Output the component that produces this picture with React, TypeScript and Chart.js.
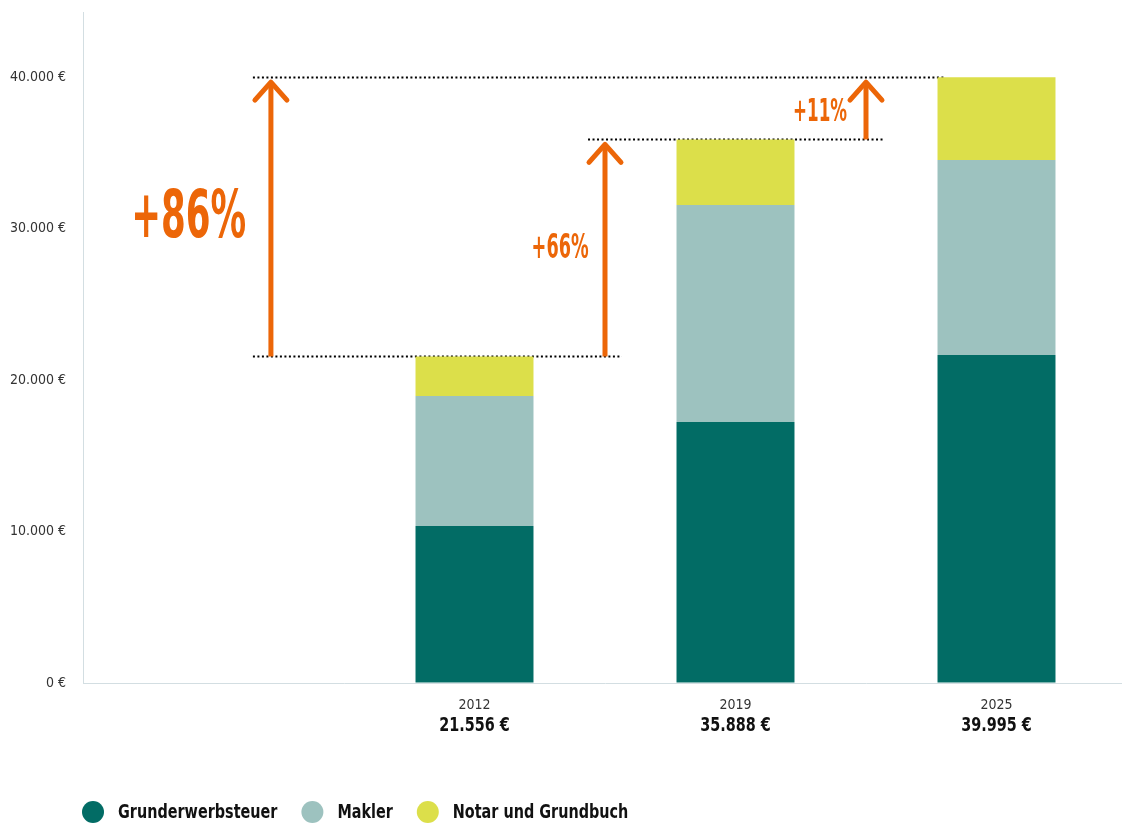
import React, { useEffect, useRef } from "react";
import { Chart, registerables } from "chart.js";

Chart.register(...registerables);

// ---------- data ----------
const categories = ["", "2012", "2019", "2025"];
const totals = [null, 21556, 35888, 39995];
const totalLabels = ["", "21.556 €", "35.888 €", "39.995 €"];
const grunderwerbsteuer = [null, 10363, 17228, 21650];
const makler = [null, 8581, 14323, 12871];
const notarUndGrundbuch = [null, 2612, 4337, 5474];
const yTicks = [0, 10000, 20000, 30000, 40000];
const yMax = 44300;

const seriesNames = ["Grunderwerbsteuer", "Makler", "Notar und Grundbuch"];
const seriesColors = ["#026C65", "#9DC2BF", "#DCDF4A"];

const growthLabels = ["+86%", "+66%", "+11%"];
const growthFrom = [21556, 21556, 35888];
const growthTo = [39995, 35888, 39995];

// ---------- annotation placement (category-index / value units) ----------
const arrowX = [0.22, 1.5, 2.5];
const labelX = [-0.095, 1.328, 2.324];
const labelBaseline = [29450, 28064, 37110];
const labelFontSize = [66, 33, 32];
const labelWidth = [115, 57, 54];
const guideValues = [21556, 35888, 39995];
const guideFrom = [0.151, 1.435, 0.151];
const guideTo = [1.565, 2.565, 2.8];

const ORANGE = "#EC6608";
const FONT = '"Liberation Sans Narrow", "DejaVu Sans Condensed", "Roboto", sans-serif';
const SQUEEZE = 0.8;

const fmt = (v: number) =>
  String(v).replace(/\B(?=(\d{3})+(?!\d))/g, ".") + " €";

const annotationPlugin = {
  id: "annotations",
  beforeDatasetsDraw(chart: any) {
    const { ctx, scales } = chart;
    const x = scales.x;
    const y = scales.y;
    ctx.save();
    ctx.strokeStyle = "#000";
    ctx.lineWidth = 2;
    ctx.setLineDash([2, 2.5]);
    guideValues.forEach((v, i) => {
      const py = Math.round(y.getPixelForValue(v)) + 0.5;
      ctx.beginPath();
      ctx.moveTo(x.getPixelForValue(guideFrom[i]), py);
      ctx.lineTo(x.getPixelForValue(guideTo[i]), py);
      ctx.stroke();
    });
    ctx.restore();
  },
  afterDatasetsDraw(chart: any) {
    const { ctx, scales } = chart;
    const x = scales.x;
    const y = scales.y;
    ctx.save();
    ctx.strokeStyle = ORANGE;
    ctx.fillStyle = ORANGE;
    ctx.lineWidth = 5;
    ctx.lineJoin = "round";
    growthLabels.forEach((label, i) => {
      const px = x.getPixelForValue(arrowX[i]);
      const yFrom = y.getPixelForValue(growthFrom[i]);
      const tip = y.getPixelForValue(growthTo[i]) + 5;
      ctx.lineCap = "butt";
      ctx.beginPath();
      ctx.moveTo(px, yFrom);
      ctx.lineTo(px, tip + 2);
      ctx.stroke();
      ctx.lineCap = "round";
      ctx.beginPath();
      ctx.moveTo(px - 16, tip + 18);
      ctx.lineTo(px, tip);
      ctx.lineTo(px + 16, tip + 18);
      ctx.stroke();

      ctx.save();
      ctx.font = `bold ${labelFontSize[i]}px ${FONT}`;
      const m = ctx.measureText(label).width;
      const sx = labelWidth[i] / m;
      ctx.translate(x.getPixelForValue(labelX[i]), y.getPixelForValue(labelBaseline[i]));
      ctx.scale(sx, 1);
      ctx.textAlign = "center";
      ctx.textBaseline = "alphabetic";
      ctx.fillText(label, 0, 0);
      ctx.restore();
    });
    ctx.restore();
  },
  afterDraw(chart: any) {
    const { ctx, scales, chartArea } = chart;
    const x = scales.x;
    // totals under the year labels
    ctx.save();
    ctx.font = `bold 20px ${FONT}`;
    ctx.fillStyle = "#111";
    ctx.textAlign = "center";
    ctx.textBaseline = "middle";
    totalLabels.forEach((t, i) => {
      if (!t) return;
      ctx.save();
      ctx.translate(x.getPixelForValue(i), x.top + 43);
      ctx.scale(SQUEEZE, 1);
      ctx.fillText(t, 0, 0);
      ctx.restore();
    });
    ctx.restore();

    // legend
    ctx.save();
    ctx.font = `bold 20px ${FONT}`;
    ctx.textBaseline = "middle";
    ctx.textAlign = "left";
    let lx = chartArea.left - 1;
    const ly = chart.height - 12;
    const r = 11;
    seriesNames.forEach((name, i) => {
      ctx.fillStyle = seriesColors[i];
      ctx.beginPath();
      ctx.arc(lx + r, ly, r, 0, Math.PI * 2);
      ctx.fill();
      lx += 2 * r + 14;
      const w = ctx.measureText(name).width * SQUEEZE;
      ctx.save();
      ctx.translate(lx, ly + 1);
      ctx.scale(SQUEEZE, 1);
      ctx.fillStyle = "#111";
      ctx.fillText(name, 0, 0);
      ctx.restore();
      lx += w + 24;
    });
    ctx.restore();
  },
};

export default function App() {
  const ref = useRef<HTMLCanvasElement | null>(null);

  useEffect(() => {
    if (!ref.current) return;
    const seriesData = [grunderwerbsteuer, makler, notarUndGrundbuch];
    const chart = new Chart(ref.current, {
      type: "bar",
      data: {
        labels: categories,
        datasets: seriesNames.map((name, i) => ({
          label: name,
          data: seriesData[i],
          backgroundColor: seriesColors[i],
          borderWidth: 0,
          categoryPercentage: 1,
          barPercentage: 0.452,
        })),
      },
      options: {
        animation: false,
        responsive: false,
        devicePixelRatio: 1,
        layout: { padding: { top: 12, left: 0, right: 0, bottom: 0 } },
        plugins: {
          legend: { display: false },
          tooltip: { enabled: false },
        },
        scales: {
          x: {
            stacked: true,
            grid: { display: true, drawOnChartArea: false, drawTicks: false },
            border: { display: true, color: "#D3DEE2", width: 1 },
            ticks: {
              color: "#333",
              font: { family: FONT, size: 14 },
              padding: 14,
              maxRotation: 0,
            },
            afterFit: (scale: any) => {
              scale.height = 141;
              scale.paddingLeft = 0;
              scale.paddingRight = 0;
            },
          },
          y: {
            stacked: true,
            min: 0,
            max: yMax,
            grid: { display: true, drawOnChartArea: false, drawTicks: false },
            border: { display: true, color: "#D3DEE2", width: 1 },
            afterBuildTicks: (scale: any) => {
              scale.ticks = yTicks.map((v) => ({ value: v }));
            },
            ticks: {
              color: "#333",
              font: { family: FONT, size: 14 },
              padding: 17,
              callback: (v: any) => fmt(Number(v)),
            },
            afterFit: (scale: any) => {
              scale.width = 83;
              scale.paddingTop = 0;
              scale.paddingBottom = 0;
            },
          },
        },
      },
      plugins: [annotationPlugin],
    });
    return () => chart.destroy();
  }, []);

  return (
    <div
      style={{
        position: "fixed",
        left: 0,
        top: 0,
        width: 1122,
        height: 824,
        overflow: "hidden",
        background: "#fff",
      }}
    >
      <canvas ref={ref} width={1127} height={824} style={{ display: "block" }} />
    </div>
  );
}
